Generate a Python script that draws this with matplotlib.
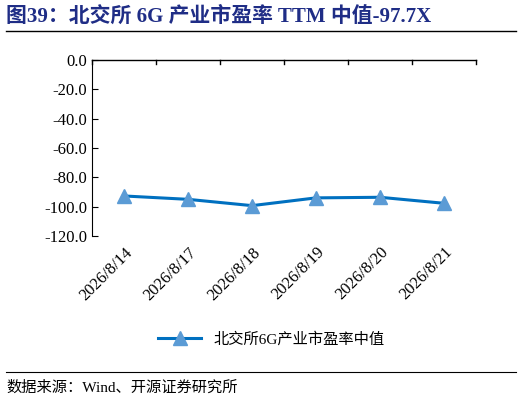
import matplotlib.pyplot as plt
import matplotlib.lines as mlines

dates = ['2026/8/14', '2026/8/17', '2026/8/18', '2026/8/19', '2026/8/20', '2026/8/21']
pe_median = [-92.7, -95.0, -99.3, -94.0, -93.6, -97.7]
yticks = [0, -20, -40, -60, -80, -100, -120]

plt.rcParams['font.family'] = ['Liberation Serif', 'Noto Sans CJK SC']

fig = plt.figure(figsize=(5.22, 4.05), dpi=100)
ax = fig.add_axes([92/522, 1-236/405, (476-92)/522, 176/405])

x = list(range(len(dates)))
ax.plot(x, pe_median, color='#0070C0', lw=2.2, marker='^', ms=10,
        markerfacecolor='#5B9BD5', markeredgecolor='#5B9BD5')
ax.set_xlim(-0.5, len(dates) - 0.5)
ax.set_ylim(-120, 0)
ax.set_yticks(yticks)
ax.set_yticklabels([f'{v:.1f}' for v in yticks], fontsize=12)

# x axis sits at the top (y=0), labels at bottom
ax.spines['right'].set_visible(False)
ax.spines['bottom'].set_visible(False)
ax.spines['top'].set_linewidth(1)
ax.set_xticks(x)
ax.set_xticklabels(dates, rotation=45, ha='right', rotation_mode='anchor', fontsize=12)
ax.tick_params(axis='x', length=0, pad=6)
for b in [i - 0.5 for i in range(len(dates) + 1)]:
    ax.plot([b, b], [0, -3], color='black', lw=1, clip_on=False)
ax.tick_params(axis='y', direction='in', length=4)

h = mlines.Line2D([], [], color='#0070C0', lw=2.2, marker='^', ms=10,
                  markerfacecolor='#5B9BD5', markeredgecolor='#5B9BD5')
fig.legend([h], ['北交所6G产业市盈率中值'], loc='center', bbox_to_anchor=(0.52, 1-339/405),
           frameon=False, fontsize=11, handlelength=2.8)

fig.text(0.012, 1-17/405, '图39：北交所 6G 产业市盈率 TTM 中值-97.7X', fontsize=15,
         fontweight='bold', color='#1F2D86', va='center')
fig.add_artist(mlines.Line2D([0.012, 0.988], [1-31/405, 1-31/405], color='black', lw=1))
fig.add_artist(mlines.Line2D([0.012, 0.988], [1-372/405, 1-372/405], color='black', lw=0.8))
fig.text(0.012, 1-388/405, '数据来源：Wind、开源证券研究所', fontsize=11, va='center')

fig.savefig('out.png', dpi=100)
